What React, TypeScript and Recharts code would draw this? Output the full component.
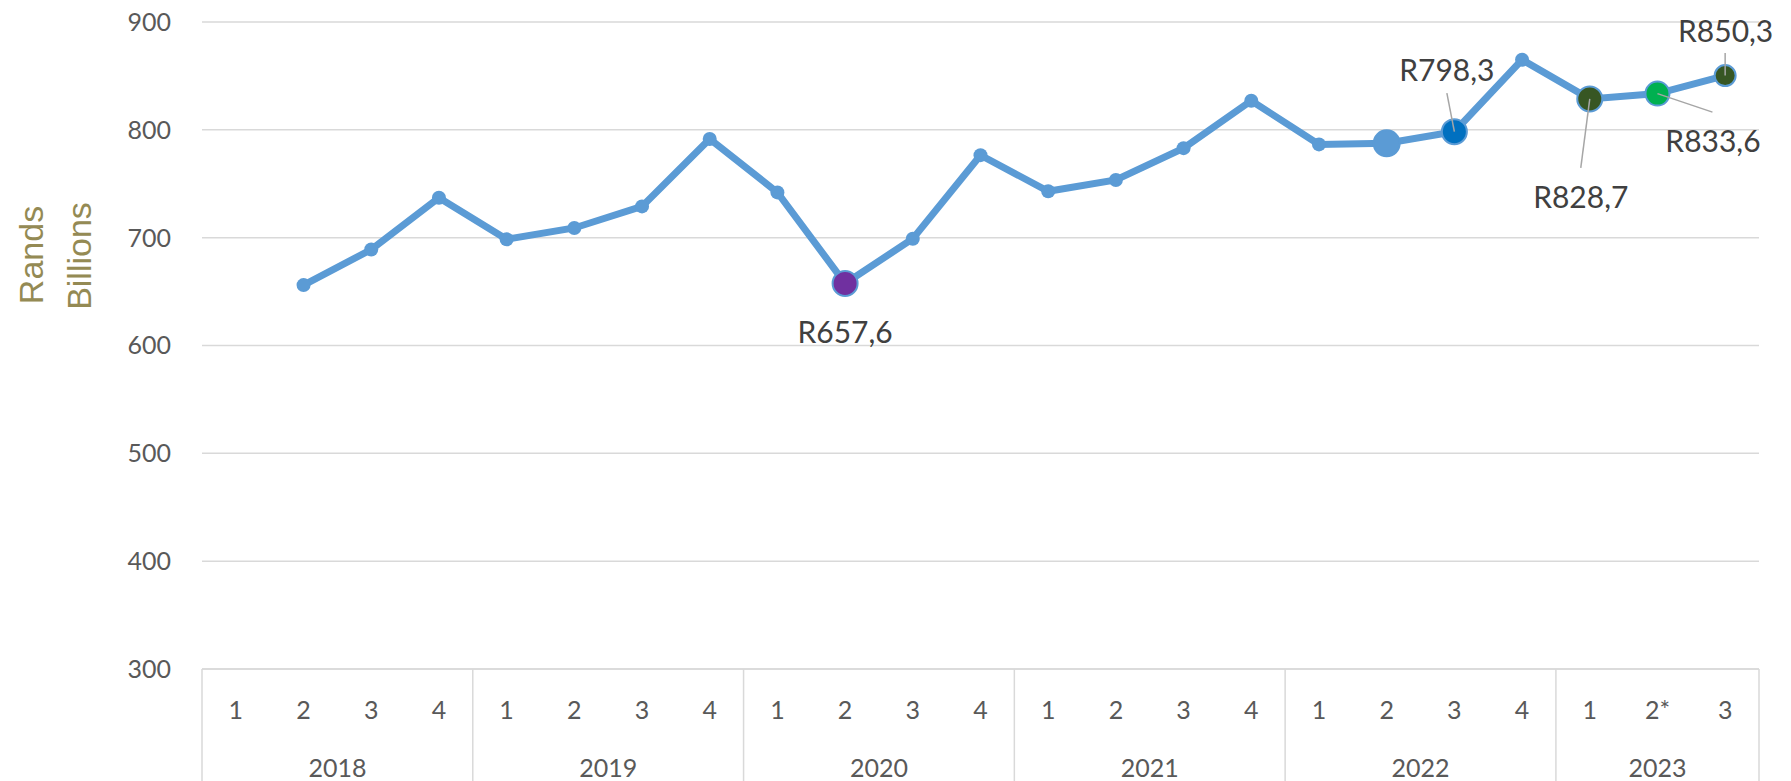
import React from 'react';
import { LineChart, Line, XAxis, YAxis, CartesianGrid } from 'recharts';

// ---- data ----
const years = ['2018', '2018', '2018', '2018', '2019', '2019', '2019', '2019', '2020', '2020', '2020', '2020', '2021', '2021', '2021', '2021', '2022', '2022', '2022', '2022', '2023', '2023', '2023'];
const quarters = ['1', '2', '3', '4', '1', '2', '3', '4', '1', '2', '3', '4', '1', '2', '3', '4', '1', '2', '3', '4', '1', '2*', '3'];
const values: (number | null)[] = [null, 656, 689, 737, 698.5, 709, 729, 791.5, 742, 657.6, 699, 776.5, 743, 753.5, 783, 827, 786.5, 787.5, 798.3, 865, 828.7, 833.6, 850.3];
const yTicks = [300, 400, 500, 600, 700, 800, 900];

const rows = quarters.map((q, i) => ({ key: `${years[i]}-${q}`, q, year: years[i], value: values[i] }));

// ---- layout & style ----
const W = 1791;
const H = 781;
const M_RIGHT = 32;
const Y_W = 202;
const X_H = 112;
const M_TOP = 22;
const BAND = (W - Y_W - M_RIGHT) / rows.length;
const FONT = "Lato, 'Liberation Sans', sans-serif";
const LINE_COLOR = '#5B9BD5';
const AXIS_COLOR = '#D9D9D9';
const TICK_COLOR = '#595959';

const markerStyles: Record<number, { fill: string; r: number }> = {
  9: { fill: '#7030A0', r: 12.5 },
  17: { fill: '#5B9BD5', r: 13 },
  18: { fill: '#0070C0', r: 12.5 },
  20: { fill: '#375623', r: 12.5 },
  21: { fill: '#00B050', r: 12 },
  22: { fill: '#375623', r: 10.5 },
};

const labelPlacement: Record<number, { dx: number; dy: number; lx?: number; ly?: number }> = {
  9: { dx: 0, dy: 48 },
  18: { dx: -7.5, dy: -63, lx: -7.5, ly: -38.5 },
  20: { dx: -9, dy: 97, lx: -9, ly: 69 },
  21: { dx: 55.5, dy: 46.5, lx: 55, ly: 18.5 },
  22: { dx: 0.5, dy: -45.6, lx: 0, ly: -22.6 },
};

const fmt = (v: number) => 'R' + v.toFixed(1).replace('.', ',');

const renderDot = (props: any) => {
  const { cx, cy, index, value } = props;
  if (cx == null || cy == null || value == null) return <g key={`d-${index}`} />;
  const ms = markerStyles[index];
  const lp = labelPlacement[index];
  return (
    <g key={`d-${index}`}>
      {ms ? (
        <circle cx={cx} cy={cy} r={ms.r} fill={ms.fill} stroke={LINE_COLOR} strokeWidth={2} />
      ) : (
        <circle cx={cx} cy={cy} r={7} fill={LINE_COLOR} />
      )}
      {lp && lp.lx !== undefined && (
        <line x1={cx + lp.lx} y1={cy + (lp.ly as number)} x2={cx} y2={cy} stroke="#A6A6A6" strokeWidth={1.5} />
      )}
      {lp && (
        <text
          x={cx + lp.dx}
          y={cy + lp.dy}
          textAnchor="middle"
          dominantBaseline="central"
          fontFamily={FONT}
          fontSize={30}
          fill="#404040"
        >
          {fmt(value)}
        </text>
      )}
    </g>
  );
};

const QuarterTick = (props: any) => {
  const { x, y, index } = props;
  const row = rows[index];
  if (!row) return null;
  const left = x - BAND / 2;
  const isFirst = index === 0 || rows[index - 1].year !== row.year;
  const isLast = index === rows.length - 1;
  const count = rows.filter((r) => r.year === row.year).length;
  return (
    <g>
      <text x={x} y={y + 40} textAnchor="middle" dominantBaseline="central" fontFamily={FONT} fontSize={25} fill={TICK_COLOR}>
        {row.q}
      </text>
      {isFirst && <line x1={left} x2={left} y1={y} y2={y + X_H} stroke={AXIS_COLOR} strokeWidth={1.5} />}
      {isFirst && (
        <text x={left + (count * BAND) / 2} y={y + 98} textAnchor="middle" dominantBaseline="central" fontFamily={FONT} fontSize={25} fill={TICK_COLOR}>
          {row.year}
        </text>
      )}
      {isLast && <line x1={x + BAND / 2} x2={x + BAND / 2} y1={y} y2={y + X_H} stroke={AXIS_COLOR} strokeWidth={1.5} />}
    </g>
  );
};

const YTitle = () => (
  <g>
    <text transform="translate(43,255) rotate(-90)" textAnchor="middle" fontFamily="'Liberation Sans', Arial, sans-serif" fontSize={34} fill="#948A54">
      Rands
    </text>
    <text transform="translate(91,256) rotate(-90)" textAnchor="middle" fontFamily="'Liberation Sans', Arial, sans-serif" fontSize={34} fill="#948A54">
      Billions
    </text>
  </g>
);

export default function App() {
  return (
    <div style={{ position: 'absolute', left: 0, top: 0, width: W, height: H, background: '#fff' }}>
      <LineChart width={W} height={H} data={rows} margin={{ top: M_TOP, right: M_RIGHT, left: 0, bottom: 0 }}>
        <CartesianGrid vertical={false} stroke={AXIS_COLOR} strokeWidth={1.5} />
        <XAxis
          dataKey="key"
          interval={0}
          height={X_H}
          padding={{ left: BAND / 2, right: BAND / 2 }}
          tickLine={false}
          tickSize={0}
          tickMargin={0}
          axisLine={{ stroke: AXIS_COLOR, strokeWidth: 1.5 }}
          tick={<QuarterTick />}
        />
        <YAxis
          domain={[300, 900]}
          ticks={yTicks}
          width={Y_W}
          axisLine={false}
          tickLine={false}
          tickSize={0}
          tickMargin={31}
          tick={{ fill: TICK_COLOR, fontSize: 25, fontFamily: FONT }}
          label={{ content: () => <YTitle /> }}
        />
        <Line
          type="linear"
          dataKey="value"
          stroke={LINE_COLOR}
          strokeWidth={7}
          dot={renderDot}
          activeDot={false}
          connectNulls={false}
          isAnimationActive={false}
        />
      </LineChart>
    </div>
  );
}
